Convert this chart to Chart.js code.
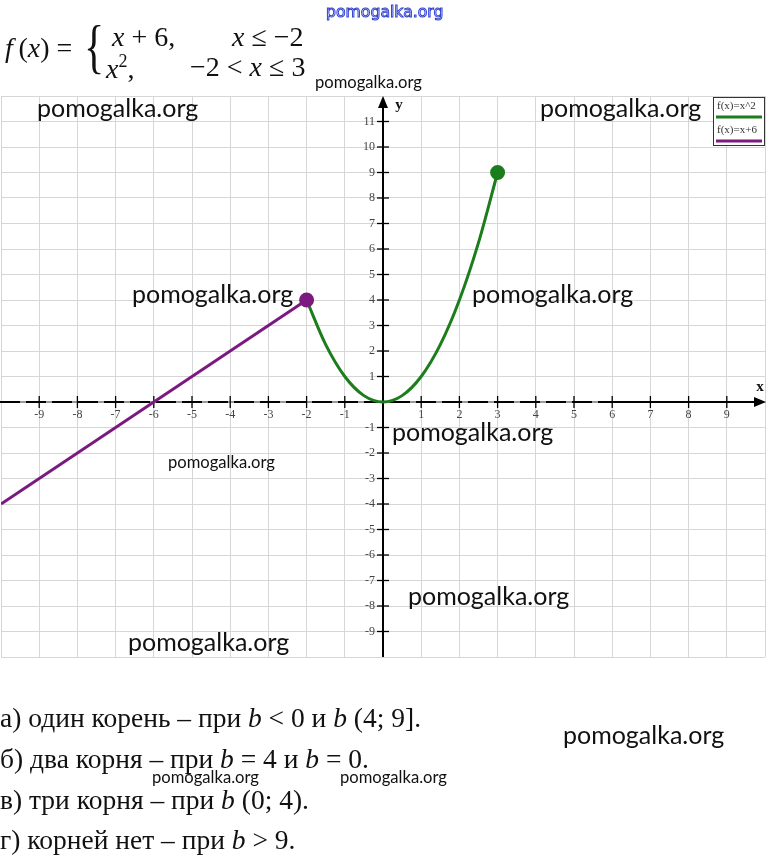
<!DOCTYPE html>
<html>
<head>
<meta charset="utf-8">
<script src="https://cdn.jsdelivr.net/npm/chart.js@4.4.0/dist/chart.umd.min.js"></script>
<style>
body { margin: 0; background: #fff; }
#wrap { position: relative; width: 767px; height: 855px; overflow: hidden; background: #fff; }
#graph { position: absolute; left: 0; top: 0; }
.t { position: absolute; white-space: nowrap; line-height: 1; }
.wm { font-family: Lato, sans-serif; color: #111; }
.serif { font-family: "Liberation Serif", "Times New Roman", serif; color: #111; }
.serif i { font-style: italic; }
.outl { font-family: "DejaVu Sans", sans-serif; color: #fff; -webkit-text-stroke: 1px #3344d0; }
</style>
</head>
<body>
<div id="wrap">
  <canvas id="graph" width="767" height="855"></canvas>
</div>
<script>
// piecewise function data
var lineX = [-10, -2];
var lineY = [-4, 4];
var parabolaX = [-2, -1.5, -1, -0.5, 0, 0.5, 1, 1.5, 2, 2.5, 3];
var parabolaY = [4, 2.25, 1, 0.25, 0, 0.25, 1, 2.25, 4, 6.25, 9];
var seriesNames = ['f(x)=x^2', 'f(x)=x+6'];
var xTickLabels = ['-9', '-8', '-7', '-6', '-5', '-4', '-3', '-2', '-1', '1', '2', '3', '4', '5', '6', '7', '8', '9'];
var yTickLabels = ['-9', '-8', '-7', '-6', '-5', '-4', '-3', '-2', '-1', '1', '2', '3', '4', '5', '6', '7', '8', '9', '10', '11'];

var formulaLines = [
    { left: 5, base: 57, size: 28, html: '<i>f</i>&thinsp;(<i>x</i>) =' },
    { left: 112, base: 46, size: 28, html: '<i>x</i> + 6,' },
    { left: 232, base: 46, size: 28, html: '<i>x</i> ≤ −2' },
    { left: 106, base: 75, size: 28, html: '<i>x</i><sup style="font-size:18px;vertical-align:11px">2</sup>,' },
    { left: 190, base: 76, size: 28, html: '−2 &lt; <i>x</i> ≤ 3' }
];
var answers = [
    'а) один корень – при <i>b</i> &lt; 0 и <i>b</i> (4; 9].',
    'б) два корня – при <i>b</i> = 4 и <i>b</i> = 0.',
    'в) три корня – при <i>b</i> (0; 4).',
    'г) корней нет – при <i>b</i> &gt; 9.'
];
var answerBase = [727, 768, 809, 849];

var watermarks = [
    [37, 117, 25], [540, 117, 25], [132, 303, 25], [472, 303, 25], [392, 441, 25],
    [408, 605, 25], [128, 651, 25], [563, 744, 25],
    [315, 89, 16.6], [168, 469, 16.6], [152, 784, 16.6], [340, 784, 16.6]
];

var wrap = document.getElementById('wrap');
function addText(cls, left, base, size, html) {
    var d = document.createElement('div');
    d.className = 't ' + cls;
    d.style.left = left + 'px';
    d.style.fontSize = size + 'px';
    var asc = cls.indexOf('wm') >= 0 ? 0.887 : 0.8375;
    d.style.top = (base - asc * size) + 'px';
    d.innerHTML = html;
    wrap.appendChild(d);
}

formulaLines.forEach(function(f) { addText('serif', f.left, f.base, f.size, f.html); });
var brace = document.createElement('div');
brace.className = 't serif';
brace.style.cssText = 'left:84px;top:16px;font-size:60px;transform:scaleX(0.7);transform-origin:left top;';
brace.textContent = '{';
wrap.appendChild(brace);

answers.forEach(function(a, i) { addText('serif', 0, answerBase[i], 27.5, a); });

var axesPlugin = {
    id: 'axesPlugin',
    beforeDatasetsDraw: function(chart) {
        var ctx = chart.ctx, xs = chart.scales.x, ys = chart.scales.y, area = chart.chartArea;
        var x0 = xs.getPixelForValue(0), y0 = ys.getPixelForValue(0);
        ctx.save();
        // x axis
        ctx.lineWidth = 2;
        ctx.strokeStyle = '#9a9a9a';
        ctx.beginPath(); ctx.moveTo(0, y0); ctx.lineTo(area.right - 8, y0); ctx.stroke();
        ctx.strokeStyle = '#000';
        ctx.setLineDash([20, 6]);
        ctx.beginPath(); ctx.moveTo(0, y0); ctx.lineTo(xs.getPixelForValue(6), y0); ctx.stroke();
        ctx.setLineDash([]);
        ctx.beginPath(); ctx.moveTo(xs.getPixelForValue(6), y0); ctx.lineTo(area.right - 8, y0); ctx.stroke();
        ctx.fillStyle = '#000';
        ctx.beginPath();
        ctx.moveTo(area.right + 1, y0); ctx.lineTo(area.right - 11, y0 - 5); ctx.lineTo(area.right - 11, y0 + 5);
        ctx.closePath(); ctx.fill();
        // y axis
        ctx.beginPath(); ctx.moveTo(x0, area.bottom); ctx.lineTo(x0, area.top + 8); ctx.stroke();
        ctx.beginPath();
        ctx.moveTo(x0, area.top); ctx.lineTo(x0 - 5, area.top + 12); ctx.lineTo(x0 + 5, area.top + 12);
        ctx.closePath(); ctx.fill();
        // ticks and labels
        ctx.lineWidth = 1.3;
        ctx.font = '12px "Liberation Serif", serif';
        ctx.fillStyle = '#444';
        ctx.textAlign = 'center';
        ctx.textBaseline = 'middle';
        xTickLabels.forEach(function(lbl) {
            var px = xs.getPixelForValue(Number(lbl));
            ctx.beginPath(); ctx.moveTo(px, y0 - 6); ctx.lineTo(px, y0 + 6); ctx.stroke();
            ctx.fillText(lbl, px, y0 + 13);
        });
        ctx.textAlign = 'right';
        yTickLabels.forEach(function(lbl) {
            var py = ys.getPixelForValue(Number(lbl));
            ctx.beginPath(); ctx.moveTo(x0 - 6, py); ctx.lineTo(x0 + 6, py); ctx.stroke();
            ctx.fillText(lbl, x0 - 8, py);
        });
        // axis names
        ctx.fillStyle = '#111';
        ctx.font = 'bold 15px "Liberation Serif", serif';
        ctx.textAlign = 'center';
        ctx.fillText('x', area.right - 5, y0 - 15);
        ctx.fillText('y', x0 + 16, area.top + 9);
        ctx.restore();
    },
    afterDraw: function(chart) {
        var ctx = chart.ctx;
        var ds = chart.data.datasets;
        ctx.save();
        ctx.fillStyle = '#fff';
        ctx.fillRect(713, 97, 52, 49);
        ctx.strokeStyle = '#333';
        ctx.lineWidth = 1;
        ctx.strokeRect(713.5, 97.5, 51, 48);
        ctx.font = '11px "Liberation Serif", serif';
        ctx.textAlign = 'left';
        ctx.textBaseline = 'middle';
        // legend order: parabola first, then line
        [1, 0].forEach(function(idx, row) {
            var top = 98 + row * 24;
            ctx.fillStyle = '#333';
            ctx.fillText(ds[idx].label, 717, top + 8);
            ctx.strokeStyle = ds[idx].borderColor;
            ctx.lineWidth = 3;
            ctx.beginPath(); ctx.moveTo(716, top + 19); ctx.lineTo(762, top + 19); ctx.stroke();
        });
        ctx.restore();
    }
};

var ctx = document.getElementById('graph').getContext('2d');
var graph = new Chart(ctx, {
    type: 'line',
    data: {
        datasets: [{
            label: seriesNames[1],
            data: lineX.map(function(v, i) { return { x: v, y: lineY[i] }; }),
            borderColor: '#7a1a80',
            backgroundColor: '#7a1a80',
            borderWidth: 3,
            pointRadius: [0, 6],
            pointHoverRadius: [0, 6],
            fill: false
        }, {
            label: seriesNames[0],
            data: parabolaX.map(function(v, i) { return { x: v, y: parabolaY[i] }; }),
            borderColor: '#1b7d1b',
            backgroundColor: '#1b7d1b',
            borderWidth: 3,
            cubicInterpolationMode: 'monotone',
            pointRadius: parabolaX.map(function(v, i) { return i === parabolaX.length - 1 ? 6 : 0; }),
            fill: false
        }]
    },
    options: {
        responsive: false,
        animation: false,
        layout: { autoPadding: false, padding: { left: 1, right: 2, top: 96, bottom: 198 } },
        plugins: {
            legend: { display: false },
            tooltip: { enabled: false }
        },
        scales: {
            x: {
                type: 'linear',
                min: -10, max: 10,
                ticks: { display: false, stepSize: 1 },
                grid: { color: '#d6d6d6', drawTicks: false },
                border: { display: false }
            },
            y: {
                type: 'linear',
                min: -10, max: 12,
                ticks: { display: false, stepSize: 1 },
                grid: { color: '#d6d6d6', drawTicks: false },
                border: { display: false }
            }
        }
    },
    plugins: [axesPlugin]
});

watermarks.forEach(function(w) { addText('wm', w[0], w[1], w[2], 'pomogalka.org'); });
addText('outl', 326, 17, 15.7, 'pomogalka.org');
</script>
</body>
</html>
